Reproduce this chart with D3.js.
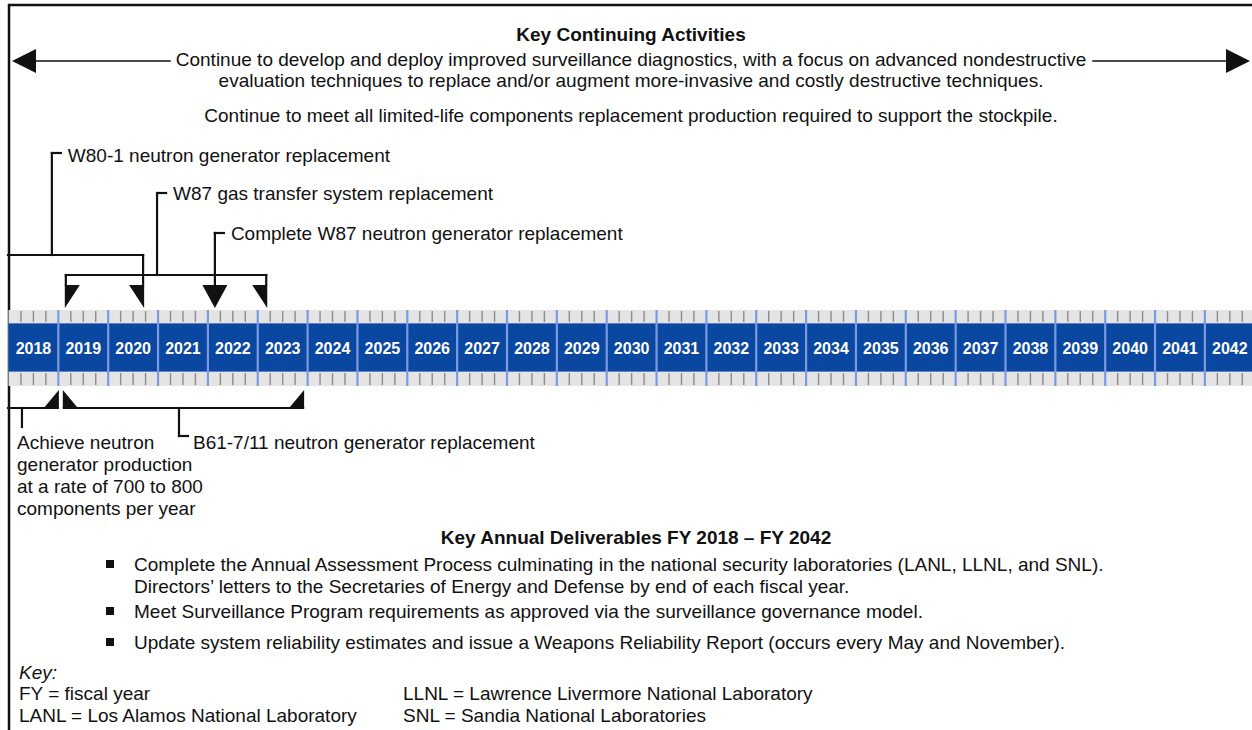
<!DOCTYPE html>
<html><head><meta charset="utf-8">
<script src="https://cdn.jsdelivr.net/npm/d3@7"></script>
<style>
html,body{margin:0;padding:0;background:#fff;}
svg{display:block;}
text{font-family:"Liberation Sans",Arial,sans-serif;fill:#111;}
</style></head>
<body>
<svg id="chart" width="1252" height="730"></svg>
<script>
// ---------- data ----------
const years = [2018,2019,2020,2021,2022,2023,2024,2025,2026,2027,2028,2029,2030,2031,2032,2033,2034,2035,2036,2037,2038,2039,2040,2041,2042];
const title = "Key Continuing Activities";
const continuingLines = [
  "Continue to develop and deploy improved surveillance diagnostics, with a focus on advanced nondestructive",
  "evaluation techniques to replace and/or augment more-invasive and costly destructive techniques.",
  "Continue to meet all limited-life components replacement production required to support the stockpile."
];
// milestones (positions expressed in fiscal-year units)
const msLabels = [
  ["W80-1 neutron generator replacement"],
  ["W87 gas transfer system replacement"],
  ["Complete W87 neutron generator replacement"],
  ["Achieve neutron","generator production","at a rate of 700 to 800","components per year"],
  ["B61-7/11 neutron generator replacement"]
];
const msSide   = ["top","top","top","bottom","bottom"];
const msFrom   = [2017.99, 2019.15, 2022.14, 2017.99, 2019.11];
const msTo     = [2020.70, 2023.17, 2022.14, 2018.99, 2023.91];
const msArrowFrom = [false, true, false, false, true];
const msStem   = [2018.87, 2020.98, 2022.14, 2018.27, 2021.42];
const deliverablesTitle = "Key Annual Deliverables FY 2018 \u2013 FY 2042";
const deliverables = [
  ["Complete the Annual Assessment Process culminating in the national security laboratories (LANL, LLNL, and SNL).",
   "Directors\u2019 letters to the Secretaries of Energy and Defense by end of each fiscal year."],
  ["Meet Surveillance Program requirements as approved via the surveillance governance model."],
  ["Update system reliability estimates and issue a Weapons Reliability Report (occurs every May and November)."]
];
const keyLeft  = ["FY = fiscal year","LANL = Los Alamos National Laboratory"];
const keyRight = ["LLNL = Lawrence Livermore National Laboratory","SNL = Sandia National Laboratories"];

// ---------- layout ----------
const W = 1252, H = 730;
const svg = d3.select("#chart");
const x = d3.scaleLinear().domain([2018, 2043]).range([8.5, 8.5 + 25*49.85]);
const FS = 19;
const ink = "#111";

// border
svg.append("path").attr("d", `M9,${H} V5 H${W}`).attr("fill","none").attr("stroke",ink).attr("stroke-width",2.5);

// title
svg.append("text").attr("x",631).attr("y",41).attr("text-anchor","middle")
  .style("font-weight","bold").style("font-size","19px").text(title);

const cBaselines = [66, 87, 122];
const cTexts = svg.selectAll(".cont").data(continuingLines).enter().append("text")
  .attr("class","cont").attr("x",631).attr("y",(d,i)=>cBaselines[i])
  .attr("text-anchor","middle").style("font-size",FS+"px").text(d=>d);

// arrows around first line
const l1 = cTexts.nodes()[0].getBBox();
const ay = 61;
svg.append("line").attr("x1",34).attr("x2",l1.x-5).attr("y1",ay).attr("y2",ay).attr("stroke",ink).attr("stroke-width",1.6);
svg.append("path").attr("d",`M12,${ay} L36,${ay-12} L36,${ay+12} Z`).attr("fill",ink);
svg.append("line").attr("x1",l1.x+l1.width+6).attr("x2",1230).attr("y1",ay).attr("y2",ay).attr("stroke",ink).attr("stroke-width",1.6);
svg.append("path").attr("d",`M1250,${ay} L1226,${ay-12} L1226,${ay+12} Z`).attr("fill",ink);

// ---------- timeline band ----------
const bandTop = 310, blueTop = 323, blueBot = 372, bandBot = 386;
const x0 = x(2018), x1 = x(2043);
svg.append("rect").attr("x",x0).attr("y",bandTop).attr("width",x1-x0).attr("height",bandBot-bandTop).attr("fill","#e4e4e4");
svg.append("rect").attr("x",x0).attr("y",blueTop).attr("width",x1-x0).attr("height",blueBot-blueTop).attr("fill","#0a47a0");
svg.append("line").attr("x1",x0).attr("x2",x1).attr("y1",blueTop+0.5).attr("y2",blueTop+0.5).attr("stroke","#5d82c8").attr("stroke-width",1);
svg.append("line").attr("x1",x0).attr("x2",x1).attr("y1",blueBot-0.5).attr("y2",blueBot-0.5).attr("stroke","#5d82c8").attr("stroke-width",1);

const quarters = d3.range(2018, 2043, 0.25).filter(q => Math.abs(q - Math.round(q)) > 0.01);
[[bandTop+1, blueTop-1],[blueBot+1, bandBot-1]].forEach(([ya,yb])=>{
  svg.append("g").selectAll("line").data(quarters).enter().append("line")
    .attr("x1",d=>x(d)).attr("x2",d=>x(d)).attr("y1",ya).attr("y2",yb)
    .attr("stroke","#8c8c8c").attr("stroke-width",1.4);
});
svg.append("g").selectAll("line").data(years.slice(1)).enter().append("line")
  .attr("x1",d=>x(d)).attr("x2",d=>x(d)).attr("y1",bandTop).attr("y2",bandBot)
  .attr("stroke","#7a9be0").attr("stroke-width",2.2);
svg.append("g").selectAll("text").data(years).enter().append("text")
  .attr("x",d=>x(d+0.5)).attr("y",353.5).attr("text-anchor","middle")
  .style("font-weight","bold").style("font-size","16px").style("fill","#fff").text(d=>d);

// ---------- milestones ----------
const LW = 2.2;
function tri(xv, side, kind){ // kind: 'right' vertical edge on right, 'left', 'center'
  const yTip = side==="top" ? 308 : 390;
  const yBase = side==="top" ? 285 : 408;
  let pts;
  if(kind==="center") pts = [[xv-12.5,yBase],[xv+12.5,yBase],[xv,yTip]];
  else if(kind==="right") pts = [[xv-14,yBase],[xv+1,yBase],[xv+1,yTip]];
  else pts = [[xv-1,yBase],[xv+14,yBase],[xv-1,yTip]];
  svg.append("path").attr("d","M"+pts.map(p=>p.join(",")).join(" L")+" Z").attr("fill",ink);
}
function seg(xa,ya,xb,yb){
  svg.append("line").attr("x1",xa).attr("y1",ya).attr("x2",xb).attr("y2",yb)
    .attr("stroke",ink).attr("stroke-width",LW).attr("stroke-linecap","square");
}
const topLevels = [255, 275, null];
const topTickY = [153, 193, 233];
const topBase  = [162, 200, 240];

msLabels.forEach((lab,i)=>{
  const side = msSide[i];
  const xa = x(msFrom[i]), xb = x(msTo[i]), xs = x(msStem[i]);
  if(side==="top"){
    const lvl = topLevels[i];
    if(lvl===null){
      seg(xs, topTickY[i], xs, 285);
      tri(xb, "top", "center");
    } else {
      seg(xa, lvl, xb, lvl);
      seg(xb, lvl, xb, 285);
      tri(xb, "top", "right");
      if(msArrowFrom[i]){ seg(xa, lvl, xa, 285); tri(xa, "top", "left"); }
      seg(xs, topTickY[i], xs, lvl);
    }
    seg(xs, topTickY[i], xs+9, topTickY[i]);
    svg.append("text").attr("x",xs+16).attr("y",topBase[i]).style("font-size",FS+"px").text(lab[0]);
  } else {
    const lvl = 408;
    seg(xa, lvl, xb, lvl);
    tri(xb, "bottom", "right");
    if(msArrowFrom[i]) tri(xa, "bottom", "left");
    if(lab.length>1){
      seg(xs, lvl, xs, 427);
      svg.append("g").selectAll("text").data(lab).enter().append("text")
        .attr("x",17).attr("y",(d,j)=>449+j*22).style("font-size",FS+"px").text(d=>d);
    } else {
      seg(xs, lvl, xs, 436);
      seg(xs, 436, xs+9, 436);
      svg.append("text").attr("x",xs+14).attr("y",449).style("font-size",FS+"px").text(lab[0]);
    }
  }
});

// ---------- deliverables ----------
svg.append("text").attr("x",636).attr("y",544).attr("text-anchor","middle")
  .style("font-weight","bold").style("font-size","19px").text(deliverablesTitle);
const bulletBase = [571, 618, 649];
deliverables.forEach((lines,i)=>{
  svg.append("rect").attr("x",106).attr("y",bulletBase[i]-11).attr("width",8).attr("height",8).attr("fill",ink);
  lines.forEach((t,j)=>{
    svg.append("text").attr("x",134).attr("y",bulletBase[i]+j*22).style("font-size",FS+"px").text(t);
  });
});

// ---------- key ----------
svg.append("text").attr("x",19).attr("y",679).style("font-size",FS+"px").style("font-style","italic").text("Key:");
keyLeft.forEach((t,i)=>svg.append("text").attr("x",19).attr("y",700+i*22).style("font-size",FS+"px").text(t));
keyRight.forEach((t,i)=>svg.append("text").attr("x",403).attr("y",700+i*22).style("font-size",FS+"px").text(t));
</script>
</body></html>
